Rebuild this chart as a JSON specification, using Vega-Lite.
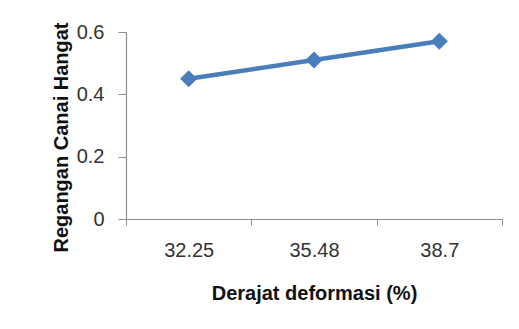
{
  "$schema": "https://vega.github.io/schema/vega-lite/v6.json",
  "width": 376,
  "height": 187,
  "autosize": {"type": "none"},
  "padding": {"left": 126, "top": 32, "right": 17, "bottom": 110},
  "background": "white",
  "config": {
    "view": {"stroke": null},
    "font": "Liberation Sans"
  },
  "data": {
    "values": [
      {"deformasi": "32.25", "regangan": 0.45},
      {"deformasi": "35.48", "regangan": 0.51},
      {"deformasi": "38.7", "regangan": 0.57}
    ]
  },
  "mark": {
    "type": "line",
    "color": "#4a7ebb",
    "strokeWidth": 4.5,
    "point": {"shape": "diamond", "size": 290, "filled": true, "color": "#4a7ebb", "opacity": 1}
  },
  "encoding": {
    "x": {
      "field": "deformasi",
      "type": "ordinal",
      "sort": null,
      "scale": {"paddingInner": 0, "paddingOuter": 0},
      "axis": {
        "title": "Derajat deformasi (%)",
        "labelAngle": 0,
        "labelFont": "Liberation Sans",
        "labelFontSize": 20,
        "labelColor": "#333333",
        "labelBaseline": "alphabetic",
        "labelPadding": 31.5,
        "tickBand": "extent",
        "tickSize": 6,
        "tickColor": "#8c8c8c",
        "domainColor": "#8c8c8c",
        "domainWidth": 1.2,
        "titleFont": "Liberation Sans",
        "titleFontSize": 20,
        "titleFontWeight": "bold",
        "titleColor": "#111111",
        "titleBaseline": "alphabetic",
        "titleAlign": "center",
        "titleX": 188,
        "titleY": 80
      }
    },
    "y": {
      "field": "regangan",
      "type": "quantitative",
      "scale": {"domain": [0, 0.6], "nice": false},
      "axis": {
        "title": "Regangan Canai Hangat",
        "values": [0, 0.2, 0.4, 0.6],
        "format": "~g",
        "grid": false,
        "labelFont": "Liberation Sans",
        "labelFontSize": 20,
        "labelColor": "#333333",
        "labelPadding": 14,
        "tickSize": 8,
        "tickColor": "#8c8c8c",
        "domainColor": "#8c8c8c",
        "domainWidth": 1.2,
        "titleFont": "Liberation Sans",
        "titleFontSize": 20,
        "titleFontWeight": "bold",
        "titleColor": "#111111",
        "titleBaseline": "alphabetic",
        "titleAlign": "center",
        "titleAngle": 270,
        "titleX": -59,
        "titleY": 105
      }
    }
  }
}
